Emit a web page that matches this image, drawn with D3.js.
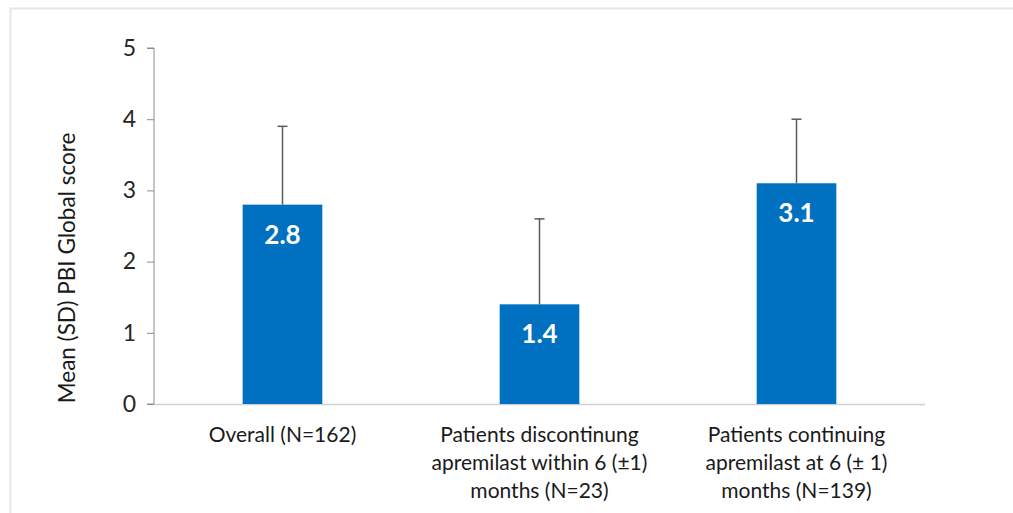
<!DOCTYPE html>
<html><head><meta charset="utf-8">
<script src="https://cdn.jsdelivr.net/npm/d3@7"></script>
<style>body{margin:0;background:#fff}svg{display:block}</style>
</head><body>
<svg id="c" width="1013" height="513"></svg>
<script>
const categories = [
  ["Overall (N=162)"],
  ["Patients discontinung", "apremilast within 6 (\u00b11)", "months (N=23)"],
  ["Patients continuing", "apremilast at 6 (\u00b1 1)", "months (N=139)"]
];
const means = [2.8, 1.4, 3.1];
const sds = [1.1, 1.2, 0.9];
const yTicks = [0, 1, 2, 3, 4, 5];
const yTitle = "Mean (SD) PBI Global score";

(function () {
const svg = d3.select("#c");
const font = "Lato, 'Open Sans', sans-serif";
svg.append("rect").attr("x", 10.5).attr("y", 8.5).attr("width", 1100).attr("height", 600)
  .attr("fill", "none").attr("stroke", "#e6e6e6").attr("stroke-width", 2);

const mL = 154, mR = 925, mT = 48, mB = 404;
const x = d3.scaleBand().domain(d3.range(categories.length)).range([mL, mR]).paddingInner(0.69).paddingOuter(0.345);
const y = d3.scaleLinear().domain([0, 5]).range([mB, mT]);

const ya = svg.append("g").attr("transform", `translate(${mL},0)`)
  .call(d3.axisLeft(y).tickValues(yTicks).tickSize(7).tickPadding(11).tickFormat(d3.format("d")));
ya.select(".domain").attr("stroke", "#8c8c8c").attr("d", `M-7,${y(5)}H0V${y(0)}H-7`);
ya.selectAll(".tick line").attr("stroke", "#8c8c8c");
ya.selectAll(".tick text").attr("font-family", font).attr("font-size", 23).attr("fill", "#262626");

svg.append("line").attr("x1", mL).attr("x2", mR).attr("y1", mB + 0.5).attr("y2", mB + 0.5)
  .attr("stroke", "#d0d0d0").attr("stroke-width", 1.5);

svg.selectAll("rect.bar").data(means).join("rect").attr("class", "bar")
  .attr("x", (d, i) => x(i)).attr("width", x.bandwidth())
  .attr("y", d => y(d)).attr("height", d => y(0) - y(d)).attr("fill", "#0070c0");

const eb = svg.append("g").attr("stroke", "#595959").attr("stroke-width", 1.5);
means.forEach((m, i) => {
  const cx = x(i) + x.bandwidth() / 2;
  eb.append("line").attr("x1", cx).attr("x2", cx).attr("y1", y(m)).attr("y2", y(m + sds[i]));
  eb.append("line").attr("x1", cx - 5).attr("x2", cx + 5).attr("y1", y(m + sds[i])).attr("y2", y(m + sds[i]));
});

svg.selectAll("text.val").data(means).join("text").attr("class", "val")
  .attr("x", (d, i) => x(i) + x.bandwidth() / 2).attr("y", d => y(d) + 39)
  .attr("text-anchor", "middle").attr("font-family", font).attr("font-weight", "bold")
  .attr("font-size", 26).attr("fill", "#fff").text(d => d.toFixed(1));

categories.forEach((lines, i) => {
  const t = svg.append("text").attr("text-anchor", "middle").attr("font-family", font)
    .attr("font-size", 21).attr("fill", "#1a1a1a");
  lines.forEach((s, j) => t.append("tspan").attr("x", x(i) + x.bandwidth() / 2).attr("y", 442 + j * 28).text(s));
});

svg.append("text").attr("transform", `translate(75,${(mT + mB) / 2 + 42}) rotate(-90)`)
  .attr("text-anchor", "middle").attr("font-family", font).attr("font-size", 22.5).attr("fill", "#1a1a1a").text(yTitle);
})();
</script>
</body></html>
